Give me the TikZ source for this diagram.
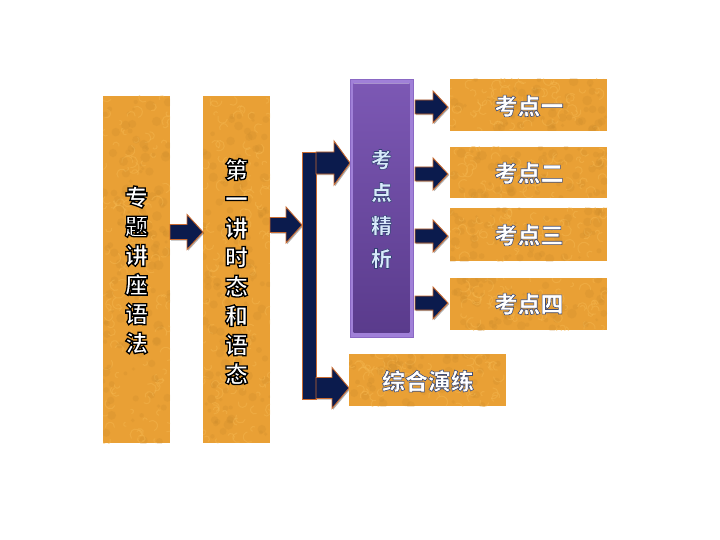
\documentclass[tikz,border=0pt]{standalone}
\usepackage{fontspec}
\newfontfamily\cjk{Noto Sans CJK SC}
\usetikzlibrary{calc,shadows}
\definecolor{navy}{HTML}{0B1B4D}
\definecolor{arrowedge}{HTML}{C96A30}
\definecolor{orng}{HTML}{E9A035}
\definecolor{swl}{HTML}{F5B850}
\definecolor{swd}{HTML}{C4862A}
\definecolor{lav}{HTML}{A080D8}
\definecolor{lavedge}{HTML}{8A68C4}
\definecolor{pptop}{HTML}{7C58B4}
\definecolor{ppbot}{HTML}{5A3B8C}
\definecolor{pptext}{HTML}{D8EAFB}
\newcommand\strkon[2]{\special{pdf:literal direct #1 RG #2 w 2 Tr}}
\newcommand\strkoff{\special{pdf:literal direct 0 Tr}}
\newcommand\blockarr[6]{%
  \draw[barr] (#1,#4-#5) -- (#3,#4-#5) -- (#3,#4-#6) -- (#2,#4) -- (#3,#4+#6) -- (#3,#4+#5) -- (#1,#4+#5) -- cycle;}
\newcommand\swirls[5]{%
  \begin{scope}
  \clip (#1,#2) rectangle ++(#3,#4);
  \foreach \i in {1,...,#5}{
    \pgfmathsetmacro\ax{#1+rnd*#3}
    \pgfmathsetmacro\ay{#2+rnd*#4}
    \pgfmathsetmacro\ar{2+rnd*4}
    \pgfmathsetmacro\aa{rnd*360}
    \draw[swl, line width=1pt, opacity=0.45] (\ax,\ay) arc[start angle=\aa, delta angle=200, radius=\ar];
    \pgfmathsetmacro\bx{#1+rnd*#3}
    \pgfmathsetmacro\by{#2+rnd*#4}
    \fill[swd, opacity=0.2] (\bx,\by) circle[radius=1.5+rnd*3.5];
  }
  \end{scope}}
\begin{document}
\begin{tikzpicture}[x=1pt,y=-1pt,
  obox/.style={rectangle, fill=orng, inner sep=0pt, draw=none},
  barr/.style={fill=navy, draw=arrowedge, line width=0.9pt, line join=miter,
    drop shadow={shadow xshift=1.2pt, shadow yshift=-1.2pt, opacity=0.3, fill=black}},
  vtext/.style={align=center, inner sep=0pt, text=white, font=\cjk\bfseries\fontsize{23}{29.2}\selectfont},
  htext/.style={inner sep=0pt, text=white, font=\cjk\bfseries\fontsize{23}{23}\selectfont},
  ptext/.style={align=center, inner sep=0pt, text=pptext, font=\cjk\bfseries\fontsize{21}{33}\selectfont}]
\useasboundingbox (0,0) rectangle (720,540);
\fill[white] (0,0) rectangle (720,540);
\pgfmathsetseed{7}

% left columns
\node[obox, minimum width=67pt, minimum height=347pt] (b1) at (136.5,269.5) {};
\swirls{103}{96}{67}{347}{130}
\node[obox, minimum width=67pt, minimum height=347pt] (b2) at (236.5,269.5) {};
\swirls{203}{96}{67}{347}{130}

\node[vtext] (t1) at (136.5,270) {\strkon{0 0 0}{1.3}专\\题\\讲\\座\\语\\法\strkoff};
\node[vtext] (t2) at (236.5,271.5) {\strkon{0 0 0}{1.3}第\\一\\讲\\时\\态\\和\\语\\态\strkoff};

% arrows between columns
\blockarr{170}{203}{187}{232}{7.5}{17.5}
\blockarr{270}{302}{286}{225}{7.5}{18}

% bracket
\draw[barr] (302,152) rectangle (316,399);
\blockarr{316}{350}{334}{163}{11}{22}
\blockarr{316}{349}{332}{388}{10.5}{20.5}

% purple box
\node[rectangle, fill=lav, draw=lavedge, line width=0.6pt, minimum width=63pt, minimum height=258pt, inner sep=0pt] (pp) at (381.5,208) {};
\fill[top color=pptop, bottom color=ppbot] ($(pp.north west)+(4,5)$) rectangle ($(pp.south east)+(-4,-5)$);
\draw[white, opacity=0.35, line width=0.6pt] ($(pp.north west)+(4,5)$) -- ($(pp.north east)+(-4,5)$);
\node[ptext] (pt) at (381.5,209) {\strkon{0.2 0.25 0.45}{0.6}考\\点\\精\\析\strkoff};

% small arrows
\blockarr{415}{448}{433}{107}{7}{16}
\blockarr{415}{448}{433}{174}{7}{16}
\blockarr{415}{448}{433}{236}{7}{16}
\blockarr{415}{448}{433}{303}{7}{16}

% right boxes
\node[obox, minimum width=157pt, minimum height=52pt] (k1) at (528.5,105) {};
\swirls{450}{79}{157}{52}{60}
\node[obox, minimum width=157pt, minimum height=51pt] (k2) at (528.5,172.5) {};
\swirls{450}{147}{157}{51}{60}
\node[obox, minimum width=157pt, minimum height=53pt] (k3) at (528.5,234.5) {};
\swirls{450}{208}{157}{53}{60}
\node[obox, minimum width=157pt, minimum height=52pt] (k4) at (528.5,304) {};
\swirls{450}{278}{157}{52}{60}
\node[obox, minimum width=157pt, minimum height=52pt] (zh) at (427.5,380) {};
\swirls{349}{354}{157}{52}{60}

\node[htext] (l1) at (529,106) {\strkon{0.25 0.3 0.45}{0.6}考点一\strkoff};
\node[htext] (l2) at (529,173) {\strkon{0.25 0.3 0.45}{0.6}考点二\strkoff};
\node[htext] (l3) at (529,235) {\strkon{0.25 0.3 0.45}{0.6}考点三\strkoff};
\node[htext] (l4) at (529,304) {\strkon{0.25 0.3 0.45}{0.6}考点四\strkoff};
\node[htext] (l5) at (428,381) {\strkon{0.25 0.3 0.45}{0.6}综合演练\strkoff};
\end{tikzpicture}
\end{document}
